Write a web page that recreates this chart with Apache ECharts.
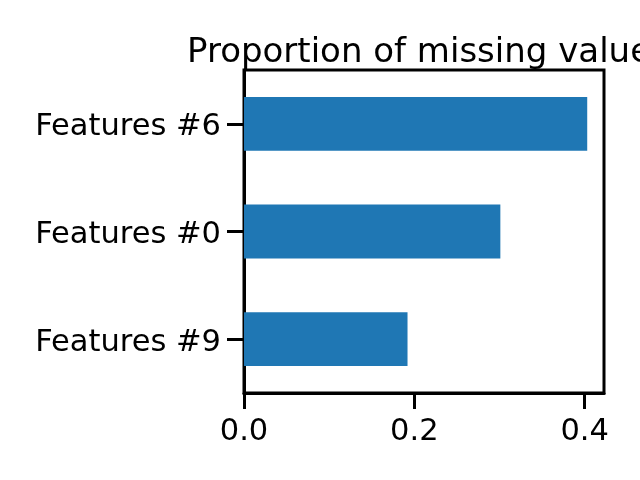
<!DOCTYPE html>
<html>
<head>
<meta charset="utf-8">
<script src="https://cdn.jsdelivr.net/npm/echarts@6/dist/echarts.min.js"></script>
<style>
  html, body { margin: 0; padding: 0; background: #fff; }
  #chart { width: 640px; height: 480px; }
</style>
</head>
<body>
<div id="chart"></div>
<script>
// bottom to top, as in the picture
var features = ['Features #9', 'Features #0', 'Features #6'];
var missingRatio = [0.192, 0.301, 0.403];
var xTicks = [0, 0.2, 0.4];

var chart = echarts.init(document.getElementById('chart'));
var font = 'DejaVu Sans';

var option = {
  animation: false,
  backgroundColor: '#fff',
  title: {
    text: 'Proportion of missing values',
    left: 187,
    top: 36,
    padding: 0,
    textStyle: { fontFamily: font, fontSize: 34, fontWeight: 'normal', color: '#000' }
  },
  grid: {
    left: 244,
    right: 36,
    top: 70,
    bottom: 87,
    show: true,
    borderColor: '#000',
    borderWidth: 3,
    backgroundColor: 'transparent'
  },
  xAxis: {
    type: 'value',
    min: 0,
    max: 0.4227,
    splitLine: { show: false },
    axisLine: { show: true, lineStyle: { color: '#000', width: 3 } },
    axisTick: { show: true, length: 16, lineStyle: { color: '#000', width: 3 }, customValues: xTicks },
    axisLabel: {
      customValues: xTicks,
      margin: 24,
      color: '#000',
      fontFamily: font,
      fontSize: 30.5,
      formatter: function (v) { return v.toFixed(1); }
    }
  },
  yAxis: {
    type: 'category',
    data: features,
    axisLine: { show: true, lineStyle: { color: '#000', width: 3 } },
    axisTick: { show: true, alignWithLabel: true, length: 17, lineStyle: { color: '#000', width: 3 } },
    axisLabel: {
      margin: 23,
      color: '#000',
      fontFamily: font,
      fontSize: 30.5,
      formatter: function (v) { return '{f|' + v + '}'; },
      rich: {
        f: { fontFamily: font, fontSize: 30.5, color: '#000', lineHeight: 38, verticalAlign: 'bottom' }
      }
    }
  },
  series: [{
    type: 'bar',
    data: missingRatio,
    barWidth: '50%',
    itemStyle: { color: '#1f77b4' }
  }]
};

chart.setOption(option);
</script>
</body>
</html>
